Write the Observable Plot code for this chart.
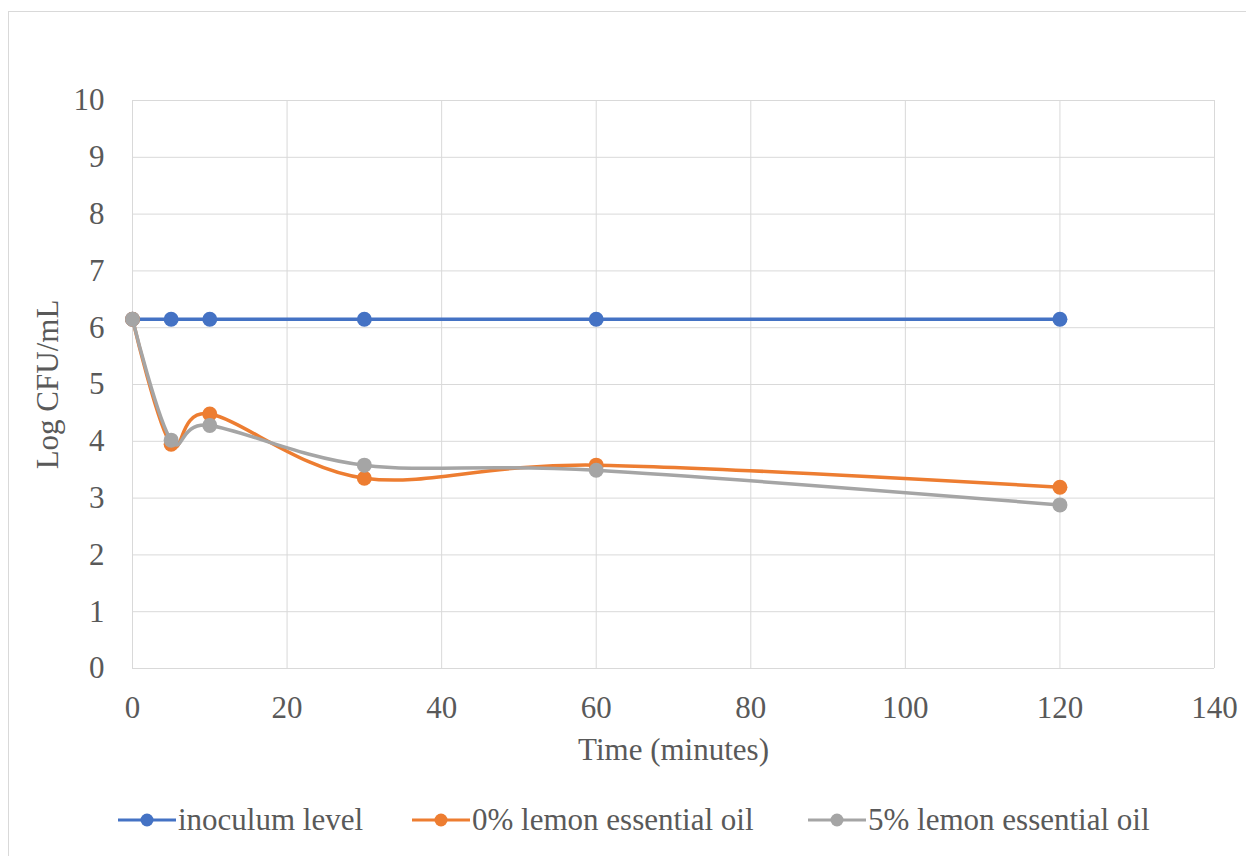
<!DOCTYPE html>
<html>
<head>
<meta charset="utf-8">
<script src="https://cdn.jsdelivr.net/npm/d3@7"></script>
<script src="https://cdn.jsdelivr.net/npm/@observablehq/plot@0.6"></script>
<style>
  html, body { margin: 0; padding: 0; background: #fff; overflow: hidden; }
  body { width: 1246px; height: 856px; position: relative; font-family: "Liberation Serif", "Times New Roman", serif; }
  #frame { position: absolute; left: 8px; top: 11px; width: 1300px; height: 900px; border: 1px solid #d9d9d9; box-sizing: border-box; }
  #chart { position: absolute; left: 0; top: 0; }
  #legend { position: absolute; top: 800px; left: 0; width: 1246px; height: 40px; }
  .item { position: absolute; top: 0; display: flex; align-items: center; height: 40px; font-size: 31px; color: #595959; white-space: nowrap; }
  .item svg { margin-right: 2px; }
</style>
</head>
<body>
<div id="frame"></div>
<div id="chart"></div>
<div id="legend"></div>
<script>
// Survival over time (Log CFU/mL)
const time = [0, 5, 10, 30, 60, 120];
const seriesNames = ["inoculum level", "0% lemon essential oil", "5% lemon essential oil"];
const inoculum = [6.15, 6.15, 6.15, 6.15, 6.15, 6.15];
const lemon0 = [6.15, 3.95, 4.48, 3.35, 3.58, 3.19];
const lemon5 = [6.15, 4.02, 4.28, 3.58, 3.49, 2.88];
const colors = ["#4472C4", "#ED7D31", "#A5A5A5"];
const xTicks = [0, 20, 40, 60, 80, 100, 120, 140];
const yTicks = [0, 1, 2, 3, 4, 5, 6, 7, 8, 9, 10];

const valuesBySeries = [inoculum, lemon0, lemon5];
const rows = seriesNames.map((name, i) =>
  time.map((t, j) => ({series: name, time: t, value: valuesBySeries[i][j]}))
);

const font = "'Liberation Serif', 'Times New Roman', serif";
const seriesMarks = rows.flatMap((data, i) => [
  Plot.line(data, {
    x: "time", y: "value", stroke: "series",
    strokeWidth: 3.5,
    curve: i === 0 ? "linear" : "cardinal", tension: 0
  }),
  Plot.dot(data, {x: "time", y: "value", fill: "series", r: 7.5})
]);

const chart = Plot.plot({
  width: 1246,
  height: 790,
  marginLeft: 132,
  marginRight: 32,
  marginTop: 100,
  marginBottom: 122,
  style: {fontFamily: font, fontSize: "31px", color: "#595959", background: "transparent", overflow: "visible"},
  x: {domain: [0, 140]},
  y: {domain: [0, 10]},
  color: {domain: seriesNames, range: colors},
  marks: [
    Plot.gridX(xTicks, {stroke: "#d9d9d9", strokeOpacity: 1, strokeWidth: 1}),
    Plot.gridY(yTicks, {stroke: "#d9d9d9", strokeOpacity: 1, strokeWidth: 1}),
    Plot.axisX(xTicks, {tickSize: 0, tickPadding: 27, tickFormat: d => String(d), label: null, fontSize: 31, fontFamily: font, fill: "#595959"}),
    Plot.axisY(yTicks, {tickSize: 0, tickPadding: 28, tickFormat: d => String(d), label: null, fontSize: 31, fontFamily: font, fill: "#595959"}),
    Plot.text(["Time (minutes)"], {text: d => d, frameAnchor: "bottom", textAnchor: "middle", lineAnchor: "middle", dy: 82, fontSize: 31, fontFamily: font, fill: "#595959"}),
    Plot.text(["Log CFU/mL"], {text: d => d, frameAnchor: "left", textAnchor: "middle", lineAnchor: "middle", dx: -84, rotate: -90, fontSize: 31, fontFamily: font, fill: "#595959"}),
    ...seriesMarks
  ]
});
document.getElementById("chart").appendChild(chart);

// Legend below the chart
const legend = d3.select("#legend");
const legendLeft = [118, 412, 808];
seriesNames.forEach((name, i) => {
  const item = legend.append("div").attr("class", "item").style("left", legendLeft[i] + "px");
  const sw = item.append("svg").attr("width", 58).attr("height", 20);
  sw.append("line").attr("x1", 0).attr("x2", 58).attr("y1", 10).attr("y2", 10)
    .attr("stroke", colors[i]).attr("stroke-width", 3);
  sw.append("circle").attr("cx", 29).attr("cy", 10).attr("r", 6.5).attr("fill", colors[i]);
  item.append("span").text(name);
});
</script>
</body>
</html>
